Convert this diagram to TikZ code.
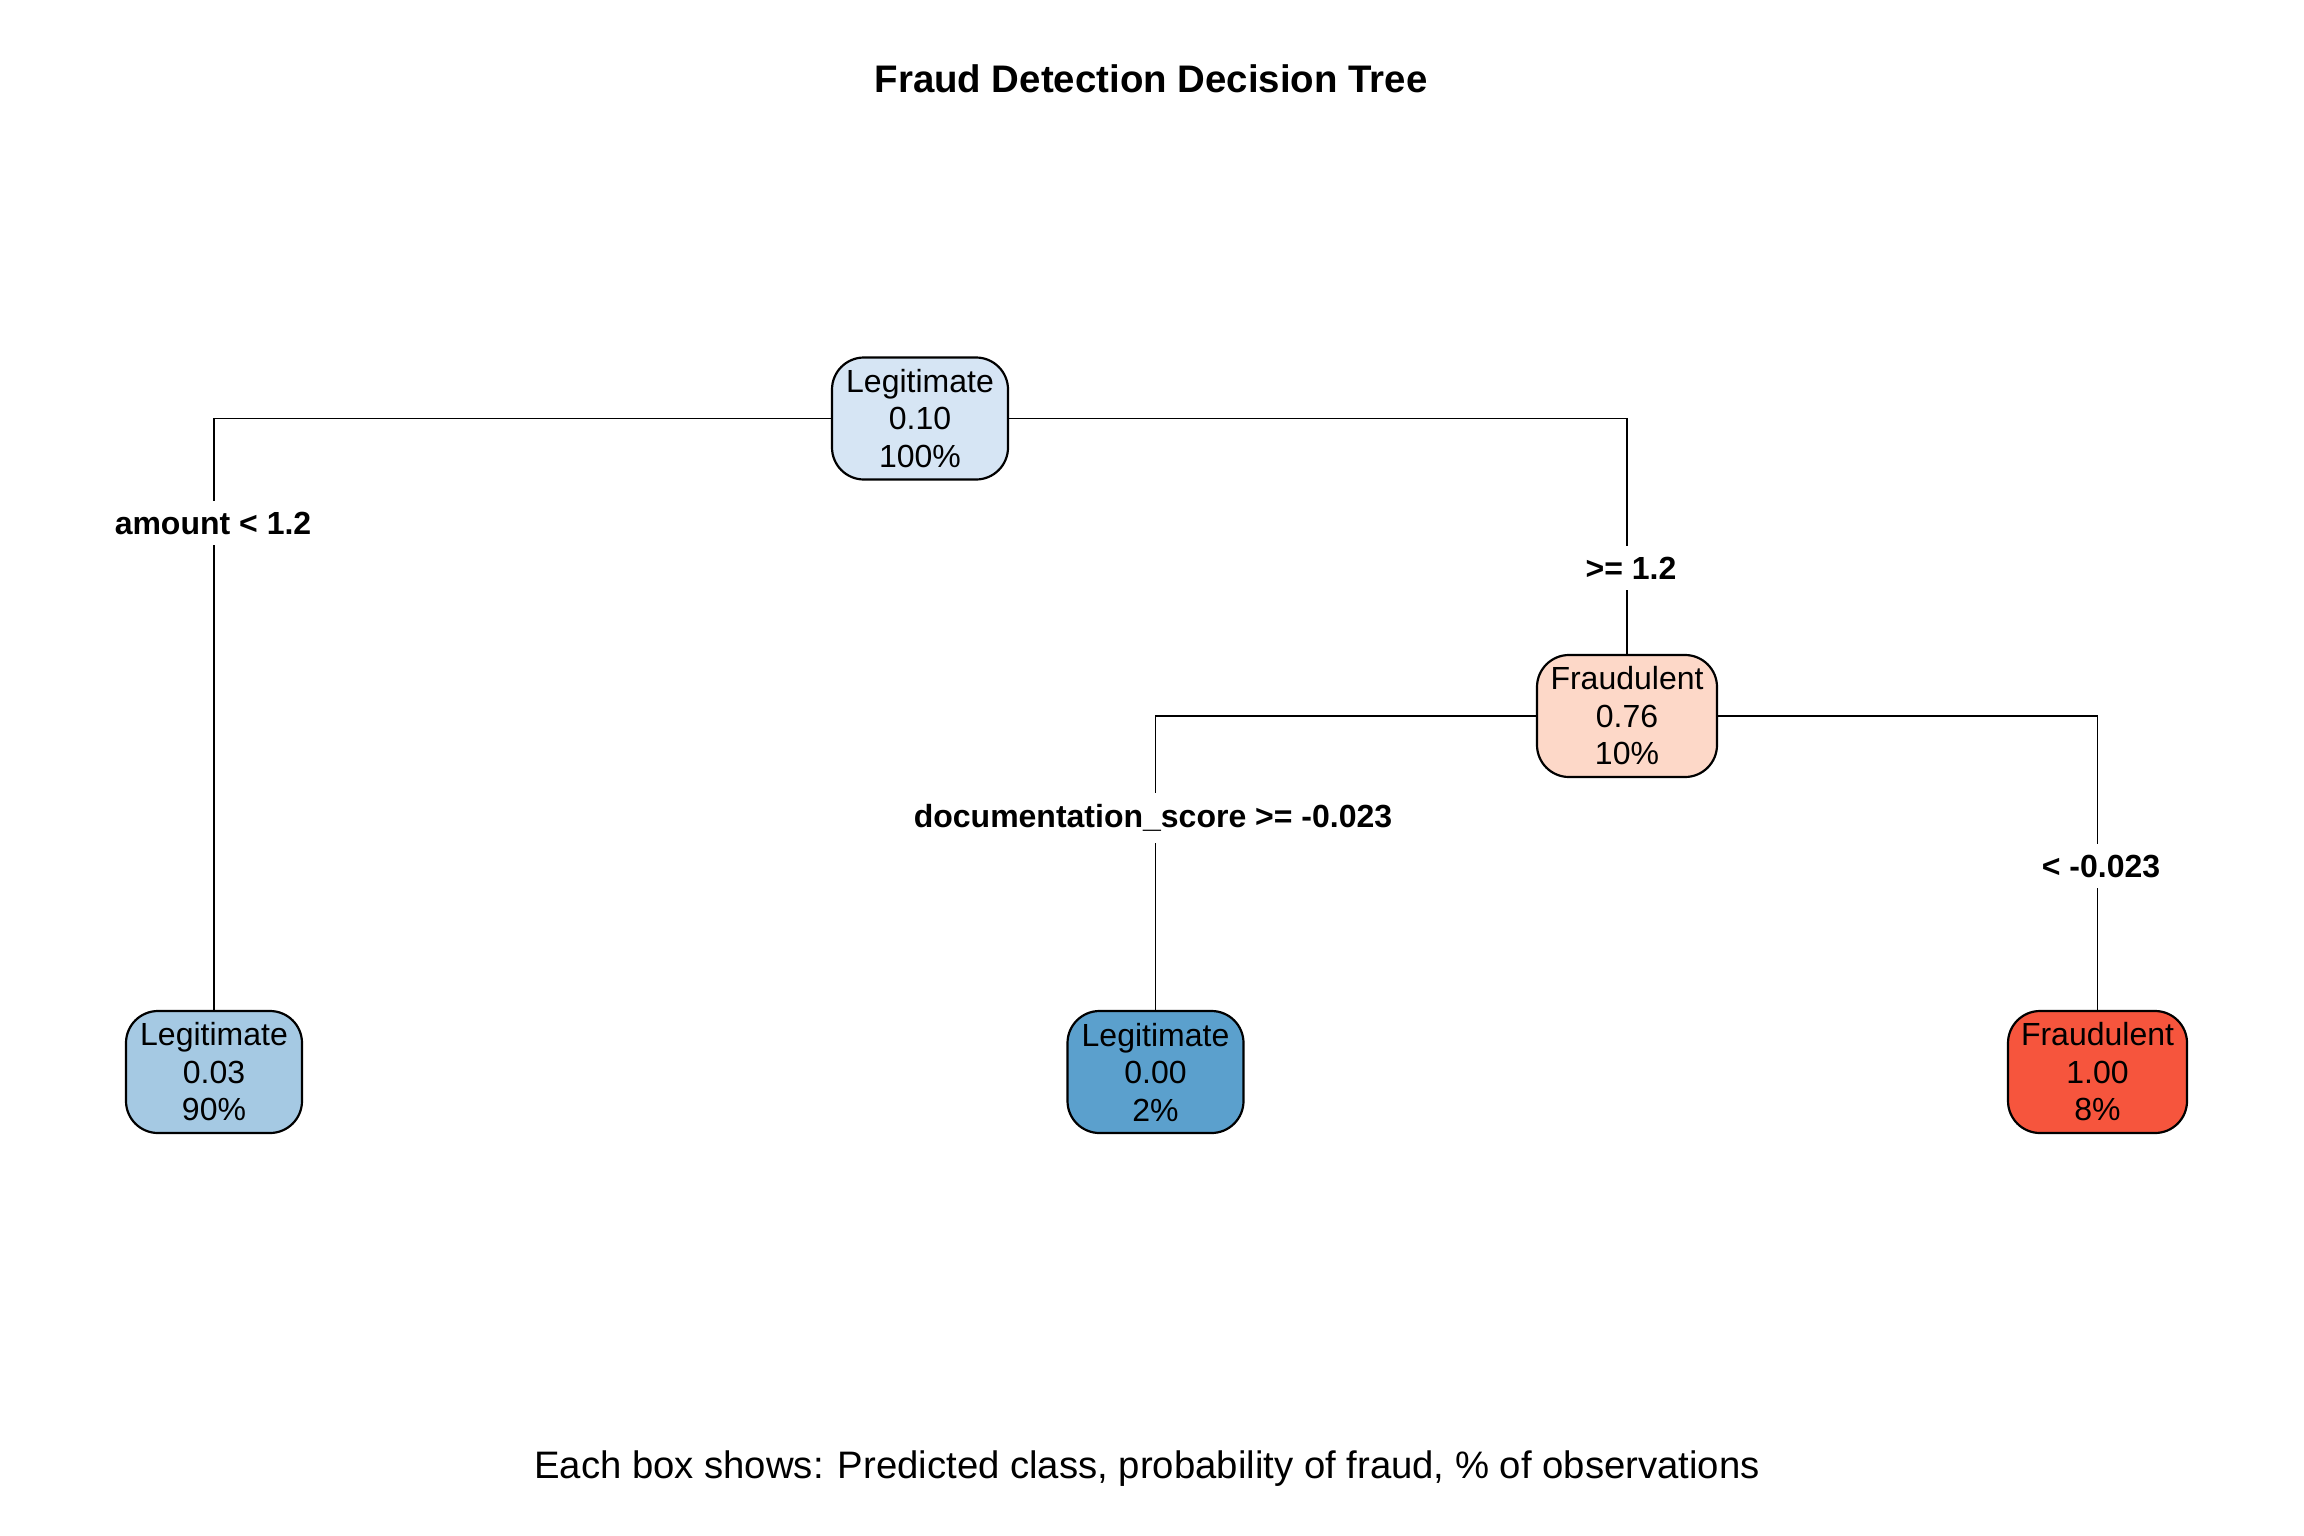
\documentclass[tikz,border=0pt]{standalone}
\usepackage{fontspec}
\setmainfont{Liberation Sans}
\definecolor{rootc}{HTML}{D6E5F4}
\definecolor{fraudc}{HTML}{FDD8C8}
\definecolor{leafa}{HTML}{A5C9E3}
\definecolor{leafb}{HTML}{5BA0CD}
\definecolor{leafc}{HTML}{F6553D}
\tikzset{
  treebox/.style={draw=black, line width=2.2pt, rounded corners=32pt, minimum width=176pt, minimum height=122pt,
    align=center, inner sep=0pt, font=\fontsize{32}{37.5}\selectfont},
  splitlabel/.style={fill=white, inner xsep=4pt, inner ysep=11pt, font=\bfseries\fontsize{32}{38}\selectfont},
  edge/.style={draw=black, line width=1.9pt}
}
\begin{document}
\begin{tikzpicture}[x=1pt,y=-1pt]
\useasboundingbox (0,0) rectangle (2304,1536);
\node[anchor=base, font=\bfseries\fontsize{38.4}{44}\selectfont] (title) at (1151,93) {Fraud Detection Decision Tree};
\node[treebox, fill=rootc] (root) at (920,418.5) {Legitimate\\0.10\\100\%};
\node[treebox, fill=fraudc, minimum width=180pt] (fraud) at (1627,716) {Fraudulent\\0.76\\10\%};
\node[treebox, fill=leafa] (leafl) at (214,1072) {Legitimate\\0.03\\90\%};
\node[treebox, fill=leafb] (leafm) at (1155.5,1072) {Legitimate\\0.00\\2\%};
\node[treebox, fill=leafc, minimum width=179pt] (leafr) at (2097.5,1072) {Fraudulent\\1.00\\8\%};
\path[edge] (root.west) -| (leafl.north);
\path[edge] (root.east) -| (fraud.north);
\path[edge] (fraud.west) -| (leafm.north);
\path[edge] (fraud.east) -| (leafr.north);
\node[splitlabel] (l1) at (213,523) {amount < 1.2};
\node[splitlabel] (l2) at (1631,568) {>= 1.2};
\node[splitlabel] (l3) at (1153,818) {documentation\_score >= -0.023};
\node[splitlabel] (l4) at (2101,866) {< -0.023};
\node[anchor=base, font=\fontsize{38.3}{44}\selectfont] (foot) at (1147,1478) {Each box shows: Predicted class, probability of fraud, \% of observations};
\end{tikzpicture}
\end{document}
